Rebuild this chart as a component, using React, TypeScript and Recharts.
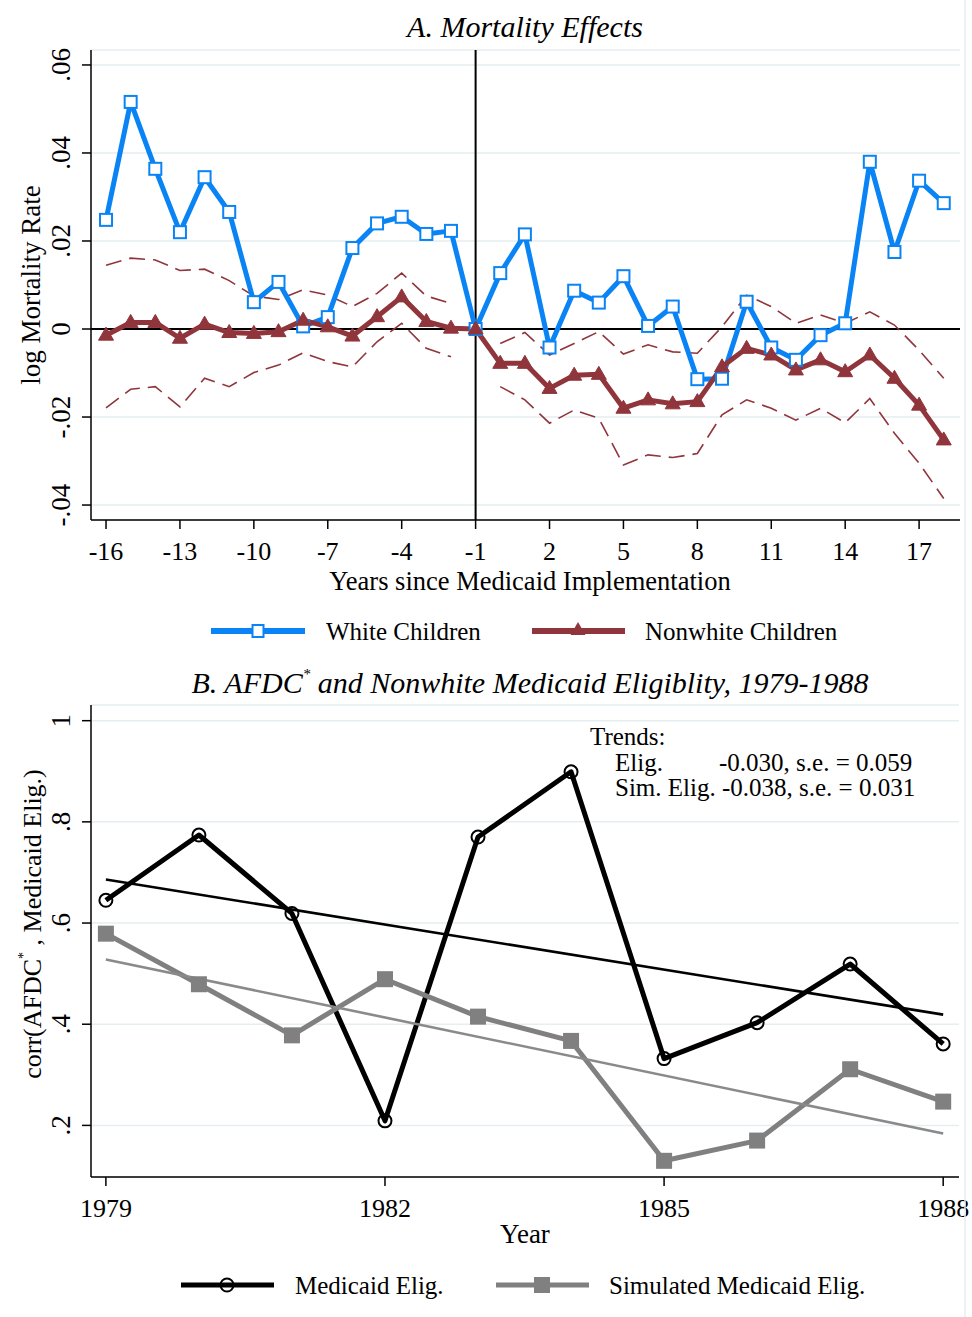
import React from 'react';
import { LineChart, Line, XAxis, YAxis, CartesianGrid, ReferenceLine } from 'recharts';

// ---------- Panel A data ----------
const years = [-16, -15, -14, -13, -12, -11, -10, -9, -8, -7, -6, -5, -4, -3, -2, -1, 0, 1, 2, 3, 4, 5, 6, 7, 8, 9, 10, 11, 12, 13, 14, 15, 16, 17, 18];
const whiteChildren = [0.0248, 0.0516, 0.0364, 0.022, 0.0345, 0.0266, 0.0061, 0.0107, 0.0006, 0.0027, 0.0184, 0.024, 0.0255, 0.0216, 0.0223, 0, 0.0127, 0.0215, -0.0042, 0.0087, 0.006, 0.012, 0.0007, 0.0051, -0.0114, -0.0113, 0.0062, -0.0042, -0.007, -0.0014, 0.0013, 0.038, 0.0175, 0.0337, 0.0286];
const nonwhiteChildren = [-0.0014, 0.0015, 0.0015, -0.0021, 0.0011, -0.0008, -0.001, -0.0006, 0.002, 0.0005, -0.0016, 0.0028, 0.0073, 0.0017, 0.0002, 0, -0.0078, -0.0078, -0.0135, -0.0105, -0.0103, -0.018, -0.0161, -0.017, -0.0165, -0.0086, -0.0044, -0.0059, -0.0093, -0.007, -0.0097, -0.0059, -0.0112, -0.0173, -0.0252];
const nonwhiteUpper = [0.0145, 0.0161, 0.0157, 0.0133, 0.0136, 0.011, 0.0075, 0.0067, 0.0089, 0.0077, 0.0051, 0.0081, 0.0127, 0.0075, 0.0058, null, -0.0033, -0.0008, -0.0059, -0.0033, -0.0006, -0.0057, -0.0036, -0.0052, -0.0055, 0.0005, 0.0077, 0.0051, 0.0013, 0.0032, 0.0013, 0.0039, 0.0009, -0.0048, -0.0112];
const nonwhiteLower = [-0.0179, -0.0137, -0.0131, -0.0177, -0.0112, -0.0131, -0.0099, -0.0082, -0.0054, -0.0074, -0.0086, -0.0029, 0.0013, -0.0044, -0.0063, null, -0.0131, -0.0161, -0.0214, -0.0184, -0.0203, -0.0309, -0.0286, -0.0292, -0.0283, -0.0195, -0.0161, -0.018, -0.0207, -0.018, -0.0213, -0.0158, -0.0237, -0.0305, -0.0385];
const mortalityTicksX = [-16, -13, -10, -7, -4, -1, 2, 5, 8, 11, 14, 17];
const mortalityTicksY = [-0.04, -0.02, 0, 0.02, 0.04, 0.06];
const mortalityTickLabelsY = ['-.04', '-.02', '0', '.02', '.04', '.06'];

// ---------- Panel B data ----------
const eligYears = [1979, 1980, 1981, 1982, 1983, 1984, 1985, 1986, 1987, 1988];
const medicaidElig = [0.645, 0.774, 0.619, 0.209, 0.77, 0.899, 0.332, 0.403, 0.519, 0.361];
const simulatedElig = [0.579, 0.479, 0.378, 0.489, 0.415, 0.367, 0.13, 0.17, 0.311, 0.247];
const eligTrend = [0.686, null, null, null, null, null, null, null, null, 0.419];
const simTrend = [0.528, null, null, null, null, null, null, null, null, 0.184];
const eligTicksX = [1979, 1982, 1985, 1988];
const eligTicksY = [0.2, 0.4, 0.6, 0.8, 1];
const eligTickLabelsY = ['.2', '.4', '.6', '.8', '1'];

const mortalityData = years.map((t, i) => ({
  t,
  white: whiteChildren[i],
  nonwhite: nonwhiteChildren[i],
  upper: nonwhiteUpper[i],
  lower: nonwhiteLower[i],
}));

const eligData = eligYears.map((year, i) => ({
  year,
  elig: medicaidElig[i],
  sim: simulatedElig[i],
  eligTrend: eligTrend[i],
  simTrend: simTrend[i],
}));

const FONT = '"Liberation Serif", "Times New Roman", Times, serif';
const BLUE = '#0a84f5';
const MAROON = '#90353b';
const GRAY = '#808080';
const GRID = '#e6eef1';

const XTick = (props: any) => {
  const { x, y, payload } = props;
  return (
    <text x={x} y={y + 29} textAnchor="middle" fontSize={26} fontFamily={FONT} fill="#000">
      {String(payload.value)}
    </text>
  );
};

const makeYTick = (ticks: number[], labels: string[]) => (props: any) => {
  const { x, y, payload } = props;
  const idx = ticks.findIndex((v) => Math.abs(v - payload.value) < 1e-9);
  const bx = x - 10;
  return (
    <text
      x={bx}
      y={y}
      transform={`rotate(-90 ${bx} ${y})`}
      textAnchor="middle"
      fontSize={27}
      fontFamily={FONT}
      fill="#000"
    >
      {idx >= 0 ? labels[idx] : String(payload.value)}
    </text>
  );
};

const MortYTick = makeYTick(mortalityTicksY, mortalityTickLabelsY);
const EligYTick = makeYTick(eligTicksY, eligTickLabelsY);

const SquareDot = (props: any) => {
  const { cx, cy, index } = props;
  if (cx == null || cy == null) return <g key={`sq-${index}`} />;
  return <rect key={`sq-${index}`} x={cx - 6} y={cy - 6} width={12} height={12} fill="#fff" stroke={BLUE} strokeWidth={2} />;
};

const TriangleDot = (props: any) => {
  const { cx, cy, index } = props;
  if (cx == null || cy == null) return <g key={`tr-${index}`} />;
  return (
    <polygon
      key={`tr-${index}`}
      points={`${cx},${cy - 8} ${cx - 7.5},${cy + 5} ${cx + 7.5},${cy + 5}`}
      fill={MAROON}
      stroke={MAROON}
      strokeWidth={1}
    />
  );
};

const CircleDot = (props: any) => {
  const { cx, cy, index } = props;
  if (cx == null || cy == null) return <g key={`ci-${index}`} />;
  return <circle key={`ci-${index}`} cx={cx} cy={cy} r={6.5} fill="none" stroke="#000" strokeWidth={2} />;
};

const GraySquareDot = (props: any) => {
  const { cx, cy, index } = props;
  if (cx == null || cy == null) return <g key={`gs-${index}`} />;
  return <rect key={`gs-${index}`} x={cx - 8} y={cy - 8} width={16} height={16} fill={GRAY} />;
};

export default function App() {
  const txt = { fontFamily: FONT, fill: '#000' } as const;
  return (
    <div style={{ position: 'absolute', left: 0, top: 0, width: 972, height: 1317, background: '#fff', overflow: 'hidden' }}>
      {/* Panel A */}
      <div style={{ position: 'absolute', left: 0, top: 0 }}>
        <LineChart width={972} height={600} data={mortalityData} margin={{ top: 50, right: 12, left: 31, bottom: 20 }}>
          <CartesianGrid vertical={false} stroke={GRID} strokeWidth={1.5} />
          <XAxis
            dataKey="t"
            type="number"
            domain={[-16.61, 18.66]}
            allowDataOverflow
            ticks={mortalityTicksX}
            interval={0}
            tick={<XTick />}
            tickSize={9}
            height={60}
            axisLine={{ stroke: '#000', strokeWidth: 1.5 }}
            tickLine={{ stroke: '#000', strokeWidth: 1.5 }}
          />
          <YAxis
            type="number"
            domain={[-0.0434, 0.0634]}
            allowDataOverflow
            ticks={mortalityTicksY}
            interval={0}
            tick={<MortYTick />}
            tickSize={9}
            width={60}
            axisLine={{ stroke: '#000', strokeWidth: 1.5 }}
            tickLine={{ stroke: '#000', strokeWidth: 1.5 }}
          />
          <ReferenceLine y={0} stroke="#000" strokeWidth={2} />
          <ReferenceLine x={-1} stroke="#000" strokeWidth={2} />
          <Line dataKey="upper" stroke={MAROON} strokeWidth={1.6} strokeDasharray="16 8" dot={false} activeDot={false} isAnimationActive={false} />
          <Line dataKey="lower" stroke={MAROON} strokeWidth={1.6} strokeDasharray="16 8" dot={false} activeDot={false} isAnimationActive={false} />
          <Line dataKey="white" stroke={BLUE} strokeWidth={5} dot={SquareDot} activeDot={false} isAnimationActive={false} strokeLinejoin="round" />
          <Line dataKey="nonwhite" stroke={MAROON} strokeWidth={5} dot={TriangleDot} activeDot={false} isAnimationActive={false} strokeLinejoin="round" />
        </LineChart>
      </div>

      {/* Panel B */}
      <div style={{ position: 'absolute', left: 0, top: 660 }}>
        <LineChart width={972} height={600} data={eligData} margin={{ top: 45, right: 13, left: 31, bottom: 23 }}>
          <CartesianGrid vertical={false} stroke={GRID} strokeWidth={1.5} />
          <XAxis
            dataKey="year"
            type="number"
            domain={[1978.84, 1988.17]}
            allowDataOverflow
            ticks={eligTicksX}
            interval={0}
            tick={<XTick />}
            tickSize={9}
            height={60}
            axisLine={{ stroke: '#000', strokeWidth: 1.5 }}
            tickLine={{ stroke: '#000', strokeWidth: 1.5 }}
          />
          <YAxis
            type="number"
            domain={[0.098, 1.031]}
            allowDataOverflow
            ticks={eligTicksY}
            interval={0}
            tick={<EligYTick />}
            tickSize={9}
            width={60}
            axisLine={{ stroke: '#000', strokeWidth: 1.5 }}
            tickLine={{ stroke: '#000', strokeWidth: 1.5 }}
          />
          <Line dataKey="elig" stroke="#000" strokeWidth={5} dot={CircleDot} activeDot={false} isAnimationActive={false} strokeLinejoin="round" />
          <Line dataKey="sim" stroke={GRAY} strokeWidth={5} dot={GraySquareDot} activeDot={false} isAnimationActive={false} strokeLinejoin="round" />
          <Line dataKey="eligTrend" stroke="#000" strokeWidth={2.6} dot={false} activeDot={false} connectNulls isAnimationActive={false} />
          <Line dataKey="simTrend" stroke="#8a8a8a" strokeWidth={2.6} dot={false} activeDot={false} connectNulls isAnimationActive={false} />
        </LineChart>
      </div>

      {/* Text overlay */}
      <svg width={972} height={1317} style={{ position: 'absolute', left: 0, top: 0, pointerEvents: 'none' }}>
        <line x1={965} y1={0} x2={965} y2={1317} stroke="#e8eef0" strokeWidth={1.5} />
        {/* Panel A texts */}
        <text x={525} y={37} textAnchor="middle" fontSize={30} fontStyle="italic" {...txt}>A. Mortality Effects</text>
        <text x={40} y={285} transform="rotate(-90 40 285)" textAnchor="middle" fontSize={27} {...txt}>log Mortality Rate</text>
        <text x={530} y={590} textAnchor="middle" fontSize={26.5} {...txt}>Years since Medicaid Implementation</text>
        {/* Legend A */}
        <line x1={211} y1={631} x2={305} y2={631} stroke={BLUE} strokeWidth={6} />
        <rect x={252.5} y={625} width={11} height={12} fill="#fff" stroke={BLUE} strokeWidth={2} />
        <text x={326} y={640} fontSize={25} {...txt}>White Children</text>
        <line x1={532} y1={631} x2={625} y2={631} stroke={MAROON} strokeWidth={6} />
        <polygon points="578,622 570.5,635 585.5,635" fill={MAROON} />
        <text x={645} y={640} fontSize={25} {...txt}>Nonwhite Children</text>

        {/* Panel B texts */}
        <text x={530} y={693} textAnchor="middle" fontSize={30} fontStyle="italic" {...txt}>
          B. AFDC<tspan dy={-14} fontSize={15}>*</tspan><tspan dy={14}> and Nonwhite Medicaid Eligiblity, 1979-1988</tspan>
        </text>
        <text x={41} y={924} transform="rotate(-90 41 924)" textAnchor="middle" fontSize={26} {...txt}>
          corr(AFDC<tspan dy={-13} fontSize={14}>*</tspan><tspan dy={13}> , Medicaid Elig.)</tspan>
        </text>
        <text x={525} y={1243} textAnchor="middle" fontSize={27} {...txt}>Year</text>
        <text x={590} y={745} fontSize={25} {...txt}>Trends:</text>
        <text x={615} y={771} fontSize={25} {...txt}>Elig.</text>
        <text x={719} y={771} fontSize={25} {...txt}>-0.030, s.e. = 0.059</text>
        <text x={615} y={796} fontSize={25} {...txt}>Sim. Elig. -0.038, s.e. = 0.031</text>
        {/* Legend B */}
        <line x1={181} y1={1285} x2={274} y2={1285} stroke="#000" strokeWidth={5} />
        <circle cx={227} cy={1285} r={6.5} fill="none" stroke="#000" strokeWidth={2} />
        <text x={295} y={1294} fontSize={25} {...txt}>Medicaid Elig.</text>
        <line x1={496} y1={1285} x2={589} y2={1285} stroke={GRAY} strokeWidth={5} />
        <rect x={534} y={1277} width={16} height={16} fill={GRAY} />
        <text x={609} y={1294} fontSize={25} {...txt}>Simulated Medicaid Elig.</text>
      </svg>
    </div>
  );
}
